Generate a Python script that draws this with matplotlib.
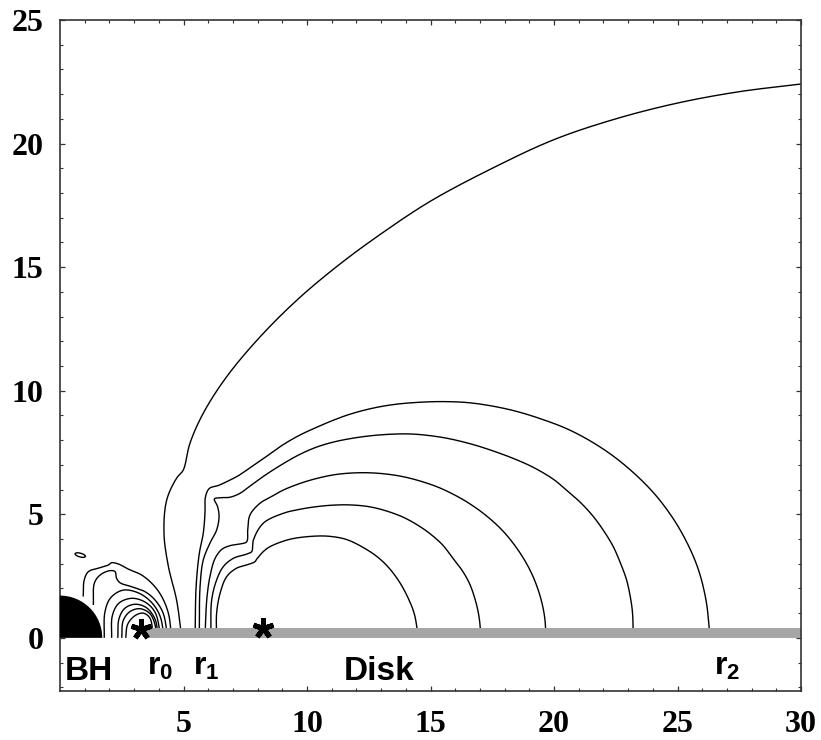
import numpy as np
import matplotlib
matplotlib.use("Agg")
import matplotlib.pyplot as plt
from matplotlib.patches import Wedge, Rectangle, Ellipse

plt.rcParams['mathtext.fontset'] = 'custom'
plt.rcParams['mathtext.rm'] = 'Liberation Sans:bold'
plt.rcParams['mathtext.it'] = 'Liberation Sans:bold'
plt.rcParams['mathtext.bf'] = 'Liberation Sans:bold'

# ---- data (x = R, y = z) ----
bh_radius = 1.71
disk_inner, disk_outer, disk_height = 3.44, 30.0, 0.39
star_x = [3.27, 8.2]
star_y = [0.36, 0.38]

# field lines rooted between r1 and the disk, closing on the disk further out
line_outer = [(4.93, 0.0), (4.72, 1.53), (4.39, 2.88), (4.21, 4.23), (4.32, 5.58),
              (4.72, 6.46), (4.99, 6.79), (5.26, 7.87), (5.80, 9.09), (6.75, 10.57),
              (8.10, 12.18), (9.65, 13.72), (11.3, 15.1), (13.0, 16.35), (15.0, 17.67),
              (17.5, 19.0), (20.0, 20.16), (22.5, 21.0), (25.0, 21.64), (27.5, 22.1),
              (30.0, 22.41)]
line_a = [(5.47, 0.0), (5.51, 2.07), (5.64, 3.42), (5.80, 4.23), (5.87, 5.04),
          (5.89, 5.71), (6.05, 6.05), (6.40, 6.16), (6.75, 6.32), (7.20, 6.55),
          (7.69, 6.88), (8.30, 7.30), (9.04, 7.82), (9.70, 8.20), (10.39, 8.52),
          (11.1, 8.82), (11.74, 9.05), (12.6, 9.28), (13.5, 9.44), (14.5, 9.53),
          (15.5, 9.56), (16.5, 9.52), (17.5, 9.38), (18.5, 9.16), (19.5, 8.85),
          (20.5, 8.47), (21.5, 7.95), (22.5, 7.28), (23.5, 6.42), (24.3, 5.55),
          (25.1, 4.38), (25.78, 2.95), (26.15, 1.55), (26.32, 0.0)]
line_b = [(5.64, 0.0), (5.67, 2.07), (5.80, 3.15), (6.07, 3.83), (6.34, 4.36),
          (6.44, 4.90), (6.38, 5.31), (6.25, 5.62), (6.48, 5.67), (6.88, 5.69),
          (7.29, 5.85), (7.69, 6.14), (8.30, 6.58), (9.04, 7.05), (9.70, 7.42),
          (10.39, 7.72), (11.1, 7.93), (11.8, 8.07), (12.6, 8.18), (13.4, 8.24),
          (14.2, 8.25), (15.0, 8.18), (15.8, 8.05), (16.8, 7.80), (17.8, 7.47),
          (18.5, 7.20), (19.2, 6.88), (20.0, 6.40), (20.5, 5.98), (21.1, 5.45),
          (21.6, 4.90), (22.0, 4.35), (22.4, 3.69), (22.7, 3.00), (22.94, 2.34),
          (23.1, 1.60), (23.18, 1.00), (23.21, 0.0)]
line_c = [(5.87, 0.0), (5.94, 1.53), (6.07, 2.48), (6.28, 3.22), (6.55, 3.58),
          (6.88, 3.73), (7.29, 3.80), (7.56, 3.89), (7.60, 4.36), (7.69, 4.97),
          (8.10, 5.45), (8.50, 5.68), (9.04, 5.98), (9.72, 6.25), (10.39, 6.45),
          (11.1, 6.60), (11.8, 6.67), (12.5, 6.68), (13.2, 6.63), (13.9, 6.52),
          (14.6, 6.34), (15.3, 6.10), (16.0, 5.77), (16.6, 5.42), (17.2, 4.99),
          (17.81, 4.45), (18.3, 3.89), (18.8, 3.16), (19.16, 2.46), (19.45, 1.65),
          (19.62, 0.85), (19.68, 0.0)]
line_d = [(6.11, 0.0), (6.14, 1.53), (6.34, 2.34), (6.61, 2.88), (7.02, 3.22),
          (7.56, 3.39), (7.76, 3.49), (7.83, 3.96), (8.23, 4.64), (9.04, 5.04),
          (9.7, 5.20), (10.39, 5.31), (11.05, 5.37), (11.74, 5.38), (12.5, 5.31),
          (13.2, 5.14), (13.9, 4.88), (14.5, 4.55), (15.0, 4.20), (15.5, 3.75),
          (15.92, 3.20), (16.3, 2.70), (16.6, 2.15), (16.85, 1.40), (16.98, 0.75),
          (17.04, 0.0)]
line_e = [(6.34, 0.0), (6.34, 0.99), (6.48, 1.80), (6.75, 2.48), (7.15, 2.82),
          (7.56, 2.95), (7.89, 3.08), (7.96, 3.18), (8.23, 3.49), (8.50, 3.69),
          (9.31, 3.99), (10.39, 4.12), (11.0, 4.10), (11.6, 3.98), (12.2, 3.70),
          (12.82, 3.30), (13.3, 2.85), (13.75, 2.25), (14.1, 1.60), (14.35, 0.95),
          (14.51, 0.0)]

# loops between the hole and r0
loop_1 = [(0.94, 1.67), (0.98, 2.34), (1.15, 2.68), (1.55, 2.82), (1.96, 2.95),
          (2.09, 3.04), (2.36, 2.99), (2.77, 2.78), (3.31, 2.54), (3.78, 2.14),
          (4.12, 1.67), (4.39, 0.99), (4.52, 0.0)]
loop_2 = [(1.35, 1.33), (1.39, 2.21), (1.62, 2.54), (2.02, 2.72), (2.23, 2.68),
          (2.29, 2.41), (2.43, 2.23), (2.90, 2.07), (3.44, 1.87), (3.85, 1.53),
          (4.18, 0.99), (4.36, 0.0)]
loop_3 = [(1.79, 0.0), (1.82, 1.05), (2.05, 1.62), (2.55, 1.93), (3.17, 1.82),
          (3.71, 1.43), (4.05, 0.88), (4.22, 0.0)]
loop_4 = [(2.09, 0.0), (2.12, 0.90), (2.38, 1.40), (2.90, 1.60), (3.44, 1.45),
          (3.85, 1.03), (4.09, 0.0)]
loop_5 = [(2.34, 0.0), (2.39, 0.78), (2.63, 1.20), (3.04, 1.36), (3.50, 1.22),
          (3.85, 0.75), (3.98, 0.0)]
loop_6 = [(2.50, 0.0), (2.56, 0.70), (2.83, 1.06), (3.24, 1.18), (3.64, 0.98),
          (3.85, 0.52), (3.89, 0.0)]
loop_7 = [(2.66, 0.0), (2.74, 0.55), (3.04, 0.90), (3.37, 1.00), (3.64, 0.80),
          (3.78, 0.0)]

islet_center = (0.82, 3.35)
islet_size = (0.43, 0.15)

labels = ['BH', 'r$_0$', 'r$_1$', 'Disk', 'r$_2$']
label_x = [1.15, 4.05, 5.91, 12.9, 27.0]
label_y = [-1.70, -1.50, -1.50, -1.70, -1.50]
label_size = [24, 23, 23, 24, 23]

x_ticks = [5, 10, 15, 20, 25, 30]
y_ticks = [0, 5, 10, 15, 20, 25]


def smooth(pts, n=12):
    # centripetal Catmull-Rom through the read points, only so curves render smoothly
    p = np.asarray(pts, float)
    p = np.vstack([2 * p[0] - p[1], p, 2 * p[-1] - p[-2]])
    out = []
    for i in range(1, len(p) - 2):
        p0, p1, p2, p3 = p[i - 1], p[i], p[i + 1], p[i + 2]
        t0 = 0.0
        t1 = t0 + np.linalg.norm(p1 - p0) ** 0.5
        t2 = t1 + np.linalg.norm(p2 - p1) ** 0.5
        t3 = t2 + np.linalg.norm(p3 - p2) ** 0.5
        t = np.linspace(t1, t2, n, endpoint=False)[:, None]
        a1 = (t1 - t) / (t1 - t0) * p0 + (t - t0) / (t1 - t0) * p1
        a2 = (t2 - t) / (t2 - t1) * p1 + (t - t1) / (t2 - t1) * p2
        a3 = (t3 - t) / (t3 - t2) * p2 + (t - t2) / (t3 - t2) * p3
        b1 = (t2 - t) / (t2 - t0) * a1 + (t - t0) / (t2 - t0) * a2
        b2 = (t3 - t) / (t3 - t1) * a2 + (t - t1) / (t3 - t1) * a3
        out.append((t2 - t) / (t2 - t1) * b1 + (t - t1) / (t2 - t1) * b2)
    out.append(p[-2][None])
    return np.vstack(out)


fig = plt.figure(figsize=(8.21, 7.40), dpi=100)
ax = fig.add_axes([60 / 821, 1 - 691 / 740, 741 / 821, 671 / 740])

for line in [line_outer, line_a, line_b, line_c, line_d, line_e,
             loop_1, loop_2, loop_3, loop_4, loop_5, loop_6, loop_7]:
    s = smooth(line)
    ax.plot(s[:, 0], s[:, 1], color='black', lw=1.0, zorder=1, solid_capstyle='butt')

ax.add_patch(Ellipse(islet_center, islet_size[0], islet_size[1], angle=-15,
                     fill=False, edgecolor='black', lw=1.0, zorder=1))

ax.add_patch(Rectangle((disk_inner, 0), disk_outer - disk_inner, disk_height,
                       facecolor='#a6a6a6', edgecolor='none', zorder=2))
ax.add_patch(Wedge((0, 0), bh_radius, 0, 90, facecolor='black', edgecolor='none', zorder=3))

ax.plot(star_x, star_y, ls='none', marker=(5, 2, 0), ms=15, mew=3.6,
        color='black', zorder=4)

for txt, lx, ly, fs in zip(labels, label_x, label_y, label_size):
    ax.text(lx, ly, txt, ha='center', va='baseline', fontsize=fs,
            fontweight='bold', family='Liberation Sans', zorder=5)

ax.set_xlim(0, 30)
ax.set_ylim(-2.15, 25)
ax.set_xticks(x_ticks)
ax.set_yticks(y_ticks)
ax.set_xticks(np.arange(1, 30), minor=True)
ax.set_yticks(np.arange(-2, 25), minor=True)
ax.tick_params(which='both', direction='in', top=True, right=True, color='#333333')
ax.tick_params(which='major', length=3.8, width=0.9)
ax.tick_params(which='minor', length=2.0, width=0.8)
ax.tick_params(axis='x', which='major', pad=14)
ax.tick_params(axis='y', which='major', pad=12)
for lab in ax.get_xticklabels() + ax.get_yticklabels():
    lab.set_fontfamily('Liberation Serif')
    lab.set_fontweight('bold')
    lab.set_fontsize(23)
for sp in ax.spines.values():
    sp.set_color('#333333')
    sp.set_linewidth(1.2)

fig.savefig('out.png', dpi=100)
